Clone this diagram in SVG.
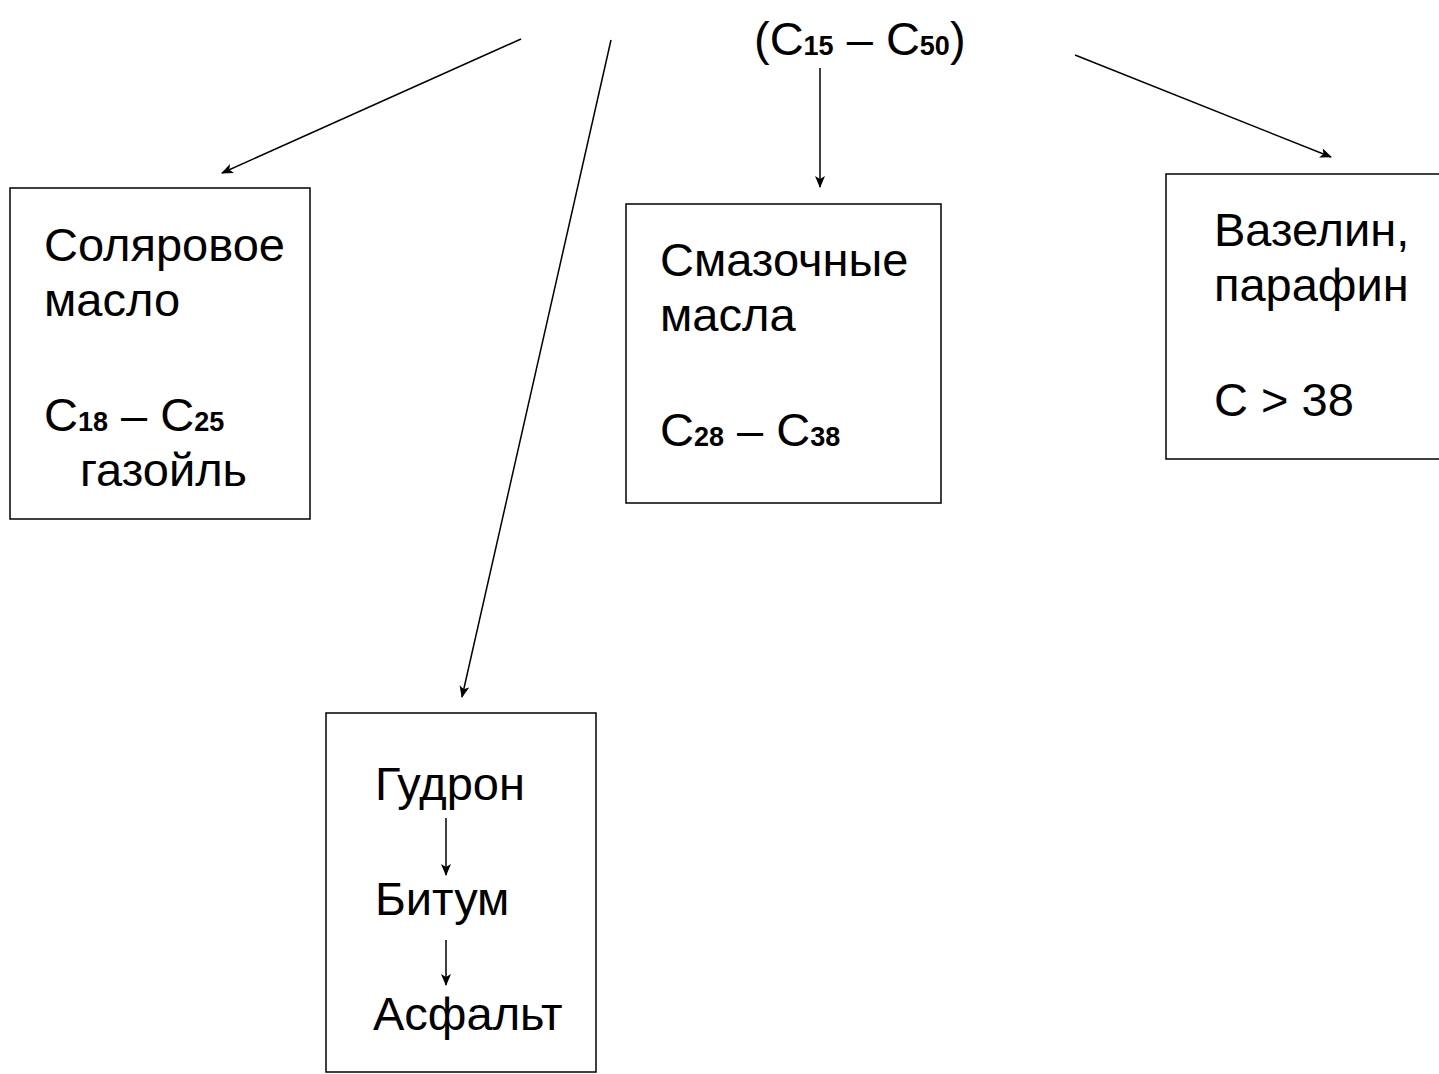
<svg xmlns="http://www.w3.org/2000/svg" width="1439" height="1074" viewBox="0 0 1439 1074">
<defs>
<marker id="ah" viewBox="0 0 12 10" refX="11" refY="5" markerWidth="12" markerHeight="10" markerUnits="userSpaceOnUse" orient="auto">
<path d="M0,0 L12,5 L0,10 L3,5 Z" fill="#000"/>
</marker>
</defs>
<style>
.box{fill:#fff;stroke:#000;stroke-width:1.5}
.t{font-family:"Liberation Sans",Arial,sans-serif;font-size:47px;fill:#000}
.s{font-size:27px;font-weight:bold}
.c{stroke:#000;stroke-width:1.5;fill:none;marker-end:url(#ah)}
</style>
<rect width="1439" height="1074" fill="#fff"/>
<g id="source">
<text class="t" x="754" y="55">(C<tspan class="s">15</tspan> – C<tspan class="s">50</tspan>)</text>
</g>
<g id="solar">
<rect class="box" x="10" y="188" width="300" height="331"/>
<text class="t" x="44" y="261">Соляровое</text>
<text class="t" x="44" y="316">масло</text>
<text class="t" x="44" y="431">C<tspan class="s">18</tspan> – C<tspan class="s">25</tspan></text>
<text class="t" x="80" y="486">газойль</text>
</g>
<g id="lubricants">
<rect class="box" x="626" y="204" width="315" height="299"/>
<text class="t" x="660" y="276">Смазочные</text>
<text class="t" x="660" y="331">масла</text>
<text class="t" x="660" y="446">C<tspan class="s">28</tspan> – C<tspan class="s">38</tspan></text>
</g>
<g id="vaseline">
<rect class="box" x="1166" y="174" width="290" height="285"/>
<text class="t" x="1214" y="246">Вазелин,</text>
<text class="t" x="1214" y="301">парафин</text>
<text class="t" x="1214" y="416">C &gt; 38</text>
</g>
<g id="tar">
<rect class="box" x="326" y="713" width="270" height="359"/>
<text class="t" x="375" y="800">Гудрон</text>
<text class="t" x="375" y="915">Битум</text>
<text class="t" x="373" y="1030">Асфальт</text>
</g>
<g id="connectors">
<line class="c" x1="521" y1="39" x2="222" y2="173"/>
<line class="c" x1="611" y1="40" x2="462" y2="697"/>
<line class="c" x1="820" y1="68" x2="820" y2="187"/>
<line class="c" x1="1075" y1="55" x2="1331" y2="157"/>
<line class="c" x1="446" y1="818" x2="446" y2="875"/>
<line class="c" x1="446" y1="940" x2="446" y2="985"/>
</g>
</svg>
